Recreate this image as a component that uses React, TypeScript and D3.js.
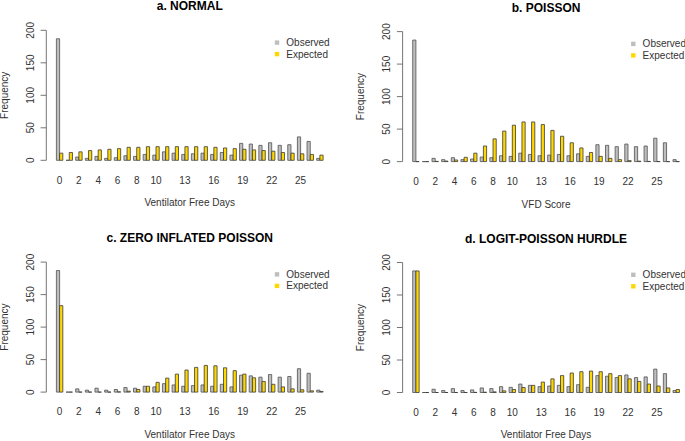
import React from 'react';
import * as d3 from 'd3';

const days = [0, 1, 2, 3, 4, 5, 6, 7, 8, 9, 10, 11, 12, 13, 14, 15, 16, 17, 18, 19, 20, 21, 22, 23, 24, 25, 26, 27];
const observed = [187, 0, 5, 3, 6, 3, 4, 7, 6, 9, 8, 13, 11, 9, 10, 11, 9, 12, 8, 26, 25, 23, 27, 23, 24, 36, 29, 3];
const expectedNormal = [11, 12, 13, 15, 16, 17, 18, 20, 20, 21, 21, 21, 21, 21, 21, 21, 20, 19, 18, 17, 16, 15, 14, 12, 11, 10, 9, 8];
const expectedPoisson = [0, 0, 0.3, 0.8, 2.5, 6.6, 13, 24, 35, 47, 56, 61, 61, 57, 48, 39, 29, 21, 14, 8, 5, 3, 1.5, 0.7, 0.3, 0.1, 0, 0];
const expectedZIP = [133, 0, 0, 0, 0, 0, 0.4, 1.5, 4, 9, 15, 21.5, 27.7, 34, 38, 41, 40.5, 37.4, 33, 27.7, 22, 16.4, 12, 8, 5, 3.6, 2, 1];
const expectedHurdle = [187, 0, 0, 0, 0, 0, 0.2, 0.5, 1, 2.5, 4.6, 7.7, 11, 16, 21, 26, 30, 32, 33, 32, 29, 26, 21, 17, 13, 10, 7, 4.6];
const xTickLabels = [0, 2, 4, 6, 8, 10, 13, 16, 19, 22, 25];
const yTicks = [0, 50, 100, 150, 200];
const seriesKeys = ['Observed', 'Expected'];
const titles = ['a. NORMAL', 'b. POISSON', 'c. ZERO INFLATED POISSON', 'd. LOGIT-POISSON HURDLE'];
const xTitles = ['Ventilator Free Days', 'VFD Score', 'Ventilator Free Days', 'Ventilator Free Days'];
const expectedSets = [expectedNormal, expectedPoisson, expectedZIP, expectedHurdle];

const W = 685;
const H = 441;
const FONT = '"Liberation Sans", Arial, Helvetica, sans-serif';
const fills: Record<string, string> = { Observed: '#BEBEBE', Expected: '#FFD700' };

const origins = [
  { ox: 0, oy: 0 },
  { ox: 356.3, oy: 1.3 },
  { ox: 0, oy: 231.8 },
  { ox: 356.3, oy: 232.2 },
];

const L = { axisX: 46.3, barStart: 56.4, step: 9.64, y0: 160.3, yTop: 30.3 };

function Panel({ idx }: { idx: number }) {
  const { ox, oy } = origins[idx];
  const expected = expectedSets[idx];
  const n = days.length;
  const x0 = d3
    .scaleBand<number>()
    .domain(days)
    .range([L.barStart - L.step / 3, L.barStart + L.step * n])
    .paddingInner(1 / 3)
    .paddingOuter(1 / 3);
  const x1 = d3.scaleBand<string>().domain(seriesKeys).range([0, x0.bandwidth()]);
  const y = d3.scaleLinear().domain([0, 200]).range([L.y0, L.yTop]);
  const lastEnd = (x0(days[n - 1]) as number) + x0.bandwidth();
  const regionRight = lastEnd + (L.barStart - L.axisX);
  const cx = (L.axisX + regionRight) / 2;

  const barPath = (xs: number, w: number, v: number) => {
    const p = d3.path();
    p.moveTo(xs, y(0));
    p.lineTo(xs, y(v));
    p.lineTo(xs + w, y(v));
    p.lineTo(xs + w, y(0));
    p.closePath();
    return p.toString();
  };

  return (
    <g transform={`translate(${ox},${oy})`}>
      <text x={cx} y={L.yTop - 20} textAnchor="middle" fontSize={12} fontWeight="bold" fill="#000">
        {titles[idx]}
      </text>
      {/* y axis */}
      <line x1={L.axisX} x2={L.axisX} y1={y(0)} y2={y(200)} stroke="#666" strokeWidth={0.9} />
      {yTicks.map((t) => (
        <g key={t}>
          <line x1={L.axisX - 5.7} x2={L.axisX} y1={y(t)} y2={y(t)} stroke="#666" strokeWidth={0.9} />
          <text
            transform={`translate(${L.axisX - 12.3},${y(t)}) rotate(-90)`}
            textAnchor="middle"
            fontSize={10}
            fill="#333"
          >
            {t}
          </text>
        </g>
      ))}
      <text
        transform={`translate(${7.8},${(y(0) + y(200)) / 2}) rotate(-90)`}
        textAnchor="middle"
        fontSize={10}
        fill="#333"
      >
        Frequency
      </text>
      {/* bars */}
      {days.map((d, i) => (
        <g key={d}>
          <path
            d={barPath((x0(d) as number) + (x1('Observed') as number), x1.bandwidth(), observed[i])}
            fill={fills.Observed}
            stroke="#505050"
            strokeWidth={0.8}
          />
          <path
            d={barPath((x0(d) as number) + (x1('Expected') as number), x1.bandwidth(), expected[i])}
            fill={fills.Expected}
            stroke="#3a3a3a"
            strokeWidth={0.8}
          />
        </g>
      ))}
      {/* x labels */}
      {xTickLabels.map((t) => (
        <text
          key={t}
          x={(x0(t) as number) + x0.bandwidth() / 2}
          y={L.y0 + 23.3}
          textAnchor="middle"
          fontSize={10}
          fill="#333"
        >
          {t}
        </text>
      ))}
      <text x={cx} y={L.y0 + 46} textAnchor="middle" fontSize={10} fill="#333">
        {xTitles[idx]}
      </text>
      {/* legend */}
      {seriesKeys.map((k, j) => {
        const cy = L.yTop + 12.3 + j * 11.5;
        return (
          <g key={k}>
            <rect x={274.8} y={cy - 2.2} width={4.4} height={4.4} fill={fills[k]} />
            <text x={286.3} y={cy + 3.6} fontSize={10} fill="#333">
              {k}
            </text>
          </g>
        );
      })}
    </g>
  );
}

export default function App() {
  return (
    <svg
      width={W}
      height={H}
      viewBox={`0 0 ${W} ${H}`}
      style={{ position: 'absolute', left: 0, top: 0, background: '#fff', fontFamily: FONT }}
    >
      <rect x={0} y={0} width={W} height={H} fill="#fff" />
      {[0, 1, 2, 3].map((i) => (
        <Panel key={i} idx={i} />
      ))}
    </svg>
  );
}
